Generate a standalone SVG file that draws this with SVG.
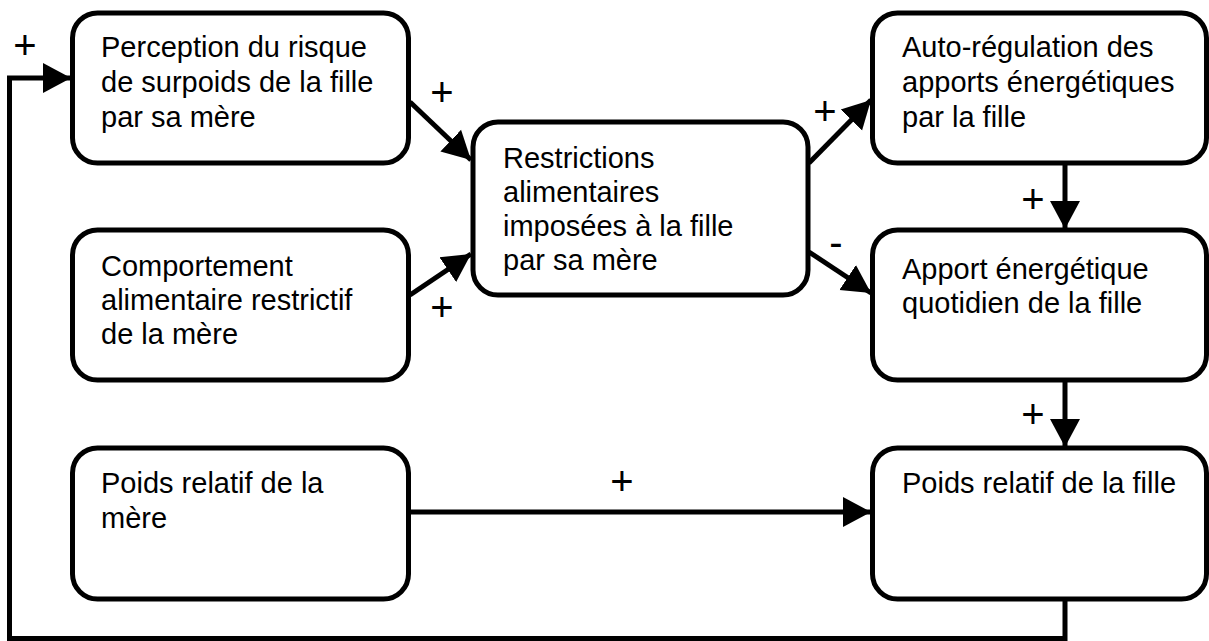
<svg xmlns="http://www.w3.org/2000/svg" width="1209" height="641" viewBox="0 0 1209 641">
<style>
.box{fill:#fff;stroke:#000;stroke-width:5}
.t{font-family:"Liberation Sans",Arial,sans-serif;font-size:29px;fill:#000}
.s{font-family:"Liberation Sans",Arial,sans-serif;font-size:40px;fill:#000;text-anchor:middle}
.c{fill:none;stroke:#000;stroke-width:5}
</style>
<defs>
<marker id="ah" markerUnits="userSpaceOnUse" markerWidth="30" markerHeight="32" refX="28" refY="16" orient="auto" viewBox="0 0 30 32">
<path d="M0,1 L28,16 L0,31 z" fill="#000"/>
</marker>
</defs>
<rect width="1209" height="641" fill="#fff"/>
<g id="connectors">
<path class="c" d="M1065,599 V638.5 H9.5 V78 H71" marker-end="url(#ah)"/>
<line class="c" x1="410" y1="102" x2="471" y2="160" marker-end="url(#ah)"/>
<line class="c" x1="410" y1="295" x2="471" y2="254" marker-end="url(#ah)"/>
<line class="c" x1="809" y1="163" x2="871" y2="100" marker-end="url(#ah)"/>
<line class="c" x1="809" y1="252" x2="871" y2="293" marker-end="url(#ah)"/>
<line class="c" x1="1065" y1="163" x2="1065" y2="229" marker-end="url(#ah)"/>
<line class="c" x1="1065" y1="380" x2="1065" y2="447" marker-end="url(#ah)"/>
<line class="c" x1="408" y1="512" x2="871" y2="512" marker-end="url(#ah)"/>
<text class="s" x="25" y="59">+</text>
<text class="s" x="442" y="106">+</text>
<text class="s" x="442" y="321">+</text>
<text class="s" x="825" y="125">+</text>
<text class="s" x="836" y="256">-</text>
<text class="s" x="1033" y="213">+</text>
<text class="s" x="1033" y="428">+</text>
<text class="s" x="622" y="495">+</text>
</g>
<g id="n-perception">
<rect class="box" x="72.5" y="13" width="336" height="150" rx="25"/>
<text class="t" x="101" y="57">Perception du risque</text>
<text class="t" x="101" y="92">de surpoids de la fille</text>
<text class="t" x="101" y="127">par sa mère</text>
</g>
<g id="n-comportement">
<rect class="box" x="72.5" y="230" width="336" height="150" rx="25"/>
<text class="t" x="101" y="276">Comportement</text>
<text class="t" x="101" y="310">alimentaire restrictif</text>
<text class="t" x="101" y="344">de la mère</text>
</g>
<g id="n-poids-mere">
<rect class="box" x="72.5" y="448" width="336" height="151" rx="25"/>
<text class="t" x="101" y="493">Poids relatif de la</text>
<text class="t" x="101" y="528">mère</text>
</g>
<g id="n-restrictions">
<rect class="box" x="473" y="122" width="335" height="173" rx="25"/>
<text class="t" x="503" y="168">Restrictions</text>
<text class="t" x="503" y="202">alimentaires</text>
<text class="t" x="503" y="236">imposées à la fille</text>
<text class="t" x="503" y="270">par sa mère</text>
</g>
<g id="n-autoregulation">
<rect class="box" x="872.5" y="13" width="334" height="150" rx="25"/>
<text class="t" x="902" y="57">Auto-régulation des</text>
<text class="t" x="902" y="92">apports énergétiques</text>
<text class="t" x="902" y="127">par la fille</text>
</g>
<g id="n-apport">
<rect class="box" x="872.5" y="230" width="334" height="150" rx="25"/>
<text class="t" x="902" y="279">Apport énergétique</text>
<text class="t" x="902" y="313">quotidien de la fille</text>
</g>
<g id="n-poids-fille">
<rect class="box" x="872.5" y="448" width="334" height="151" rx="25"/>
<text class="t" x="902" y="493">Poids relatif de la fille</text>
</g>
</svg>
